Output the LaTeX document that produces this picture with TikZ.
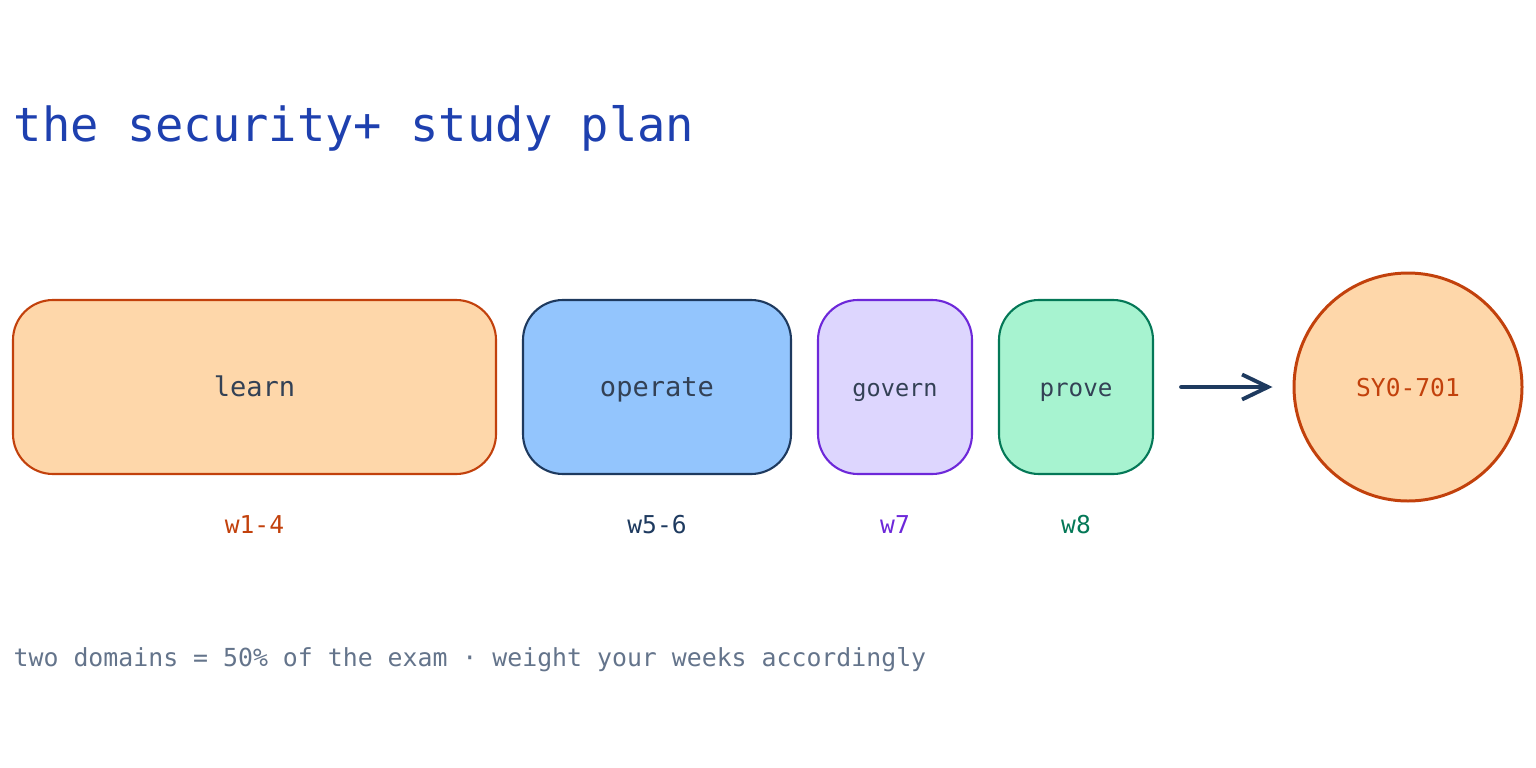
\documentclass[tikz,border=0pt]{standalone}
\usepackage{fontspec}
\setmonofont{DejaVu Sans Mono}
\usetikzlibrary{arrows.meta}
\definecolor{ttl}{HTML}{1E40AF}
\definecolor{ink}{HTML}{334155}
\definecolor{note}{HTML}{64748B}
\definecolor{orgfill}{HTML}{FED7AA}
\definecolor{orgline}{HTML}{C2410C}
\definecolor{bluefill}{HTML}{93C5FD}
\definecolor{navy}{HTML}{1E3A5F}
\definecolor{violetfill}{HTML}{DDD6FE}
\definecolor{violetline}{HTML}{6D28D9}
\definecolor{greenfill}{HTML}{A7F3D0}
\definecolor{greenline}{HTML}{047857}
\tikzset{
  phase/.style={draw, line width=0.6pt, rounded corners=0.4cm, minimum height=1.74cm,
    text height=5.6pt, text depth=0pt,
    text=ink, font=\ttfamily\fontsize{7.7}{9}\selectfont},
  week/.style={anchor=base, font=\ttfamily\fontsize{7}{9}\selectfont},
}
\begin{document}
\begin{tikzpicture}
\useasboundingbox (0,0) rectangle (15.36,-7.68);
% 标题
\node[anchor=base west, inner sep=0, text=ttl, font=\ttfamily\fontsize{13.4}{16}\selectfont] (title) at (0.13,-1.41) {the security+ study plan};
% 四个阶段
\node[phase, fill=orgfill, draw=orgline, minimum width=4.83cm] (learn) at (2.545,-3.87) {learn};
\node[phase, fill=bluefill, draw=navy, minimum width=2.68cm] (operate) at (6.57,-3.87) {operate};
\node[phase, fill=violetfill, draw=violetline, minimum width=1.54cm, font=\ttfamily\fontsize{6.7}{8}\selectfont] (govern) at (8.95,-3.87) {govern};
\node[phase, fill=greenfill, draw=greenline, minimum width=1.54cm, font=\ttfamily\fontsize{6.9}{8}\selectfont] (prove) at (10.76,-3.87) {prove};
% 考试
\node[circle, draw=orgline, line width=0.85pt, fill=orgfill, minimum size=2.28cm, text=orgline,
  text height=5.2pt, text depth=0pt,
  font=\ttfamily\fontsize{7}{9}\selectfont] (exam) at (14.08,-3.87) {SY0-701};
\draw[-{Straight Barb[length=2.6mm, width=2.5mm]}, navy, line width=1.1pt, line cap=round,
  shorten <=0.27cm, shorten >=0.2cm] (prove) -- (exam);
% 周次
\node[week, text=orgline] (w14) at (2.545,-5.33) {w1-4};
\node[week, text=navy] (w56) at (6.57,-5.33) {w5-6};
\node[week, text=violetline] (w7) at (8.95,-5.33) {w7};
\node[week, text=greenline] (w8) at (10.76,-5.33) {w8};
% 注释
\node[anchor=base west, inner sep=0, text=note, font=\ttfamily\fontsize{7.07}{9}\selectfont] (foot) at (0.13,-6.66) {two domains = 50\% of the exam · weight your weeks accordingly};
\end{tikzpicture}
\end{document}
